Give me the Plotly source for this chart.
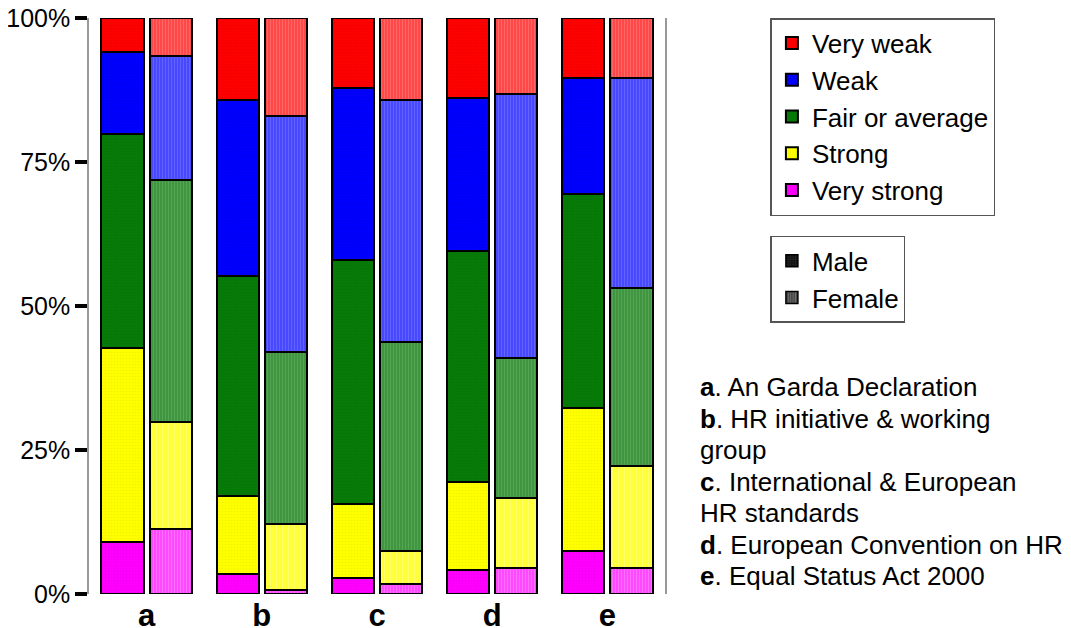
import plotly.graph_objects as go

# categories (a..e) and response levels
letters = ["a", "b", "c", "d", "e"]
levels = ["Very strong", "Strong", "Fair or average", "Weak", "Very weak"]

# percentages per level, one value per category (bottom level first)
male = {
    "Very strong":     [9.1, 3.5, 2.8, 4.2, 7.4],
    "Strong":          [33.6, 13.5, 12.9, 15.2, 24.9],
    "Fair or average": [37.1, 38.2, 42.3, 40.1, 37.1],
    "Weak":            [14.3, 30.6, 29.8, 26.6, 20.1],
    "Very weak":       [5.9, 14.2, 12.2, 13.9, 10.5],
}
female = {
    "Very strong":     [11.2, 0.7, 1.8, 4.5, 4.5],
    "Strong":          [18.7, 11.5, 5.6, 12.2, 17.8],
    "Fair or average": [42.0, 29.8, 36.35, 24.3, 30.9],
    "Weak":            [21.5, 41.0, 42.05, 45.8, 36.3],
    "Very weak":       [6.6, 17.0, 14.2, 13.2, 10.5],
}

y_ticks = [0, 25, 50, 75, 100]
y_tick_labels = ["0%", "25%", "50%", "75%", "100%"]

# key to the letters, one entry per printed line
note_lines = [
    "<b>a</b>. An Garda Declaration",
    "<b>b</b>. HR initiative & working",
    "group",
    "<b>c</b>. International & European",
    "HR standards",
    "<b>d</b>. European Convention on HR",
    "<b>e</b>. Equal Status Act 2000",
]

male_colors = {"Very strong": "#ff00ff", "Strong": "#ffff00", "Fair or average": "#067a06",
               "Weak": "#0000ff", "Very weak": "#ff0000"}
male_dots = {"Very strong": "#e000e0", "Strong": "#e8e800", "Fair or average": "#0a6a0a",
             "Weak": "#0000d8", "Very weak": "#dd0000"}
female_colors = {"Very strong": "#ff44ff", "Strong": "#ffff33", "Fair or average": "#3d943d",
                 "Weak": "#4444ff", "Very weak": "#ff4444"}
female_stripes = {"Very strong": "#ff99ff", "Strong": "#ffffa0", "Fair or average": "#6cb46c",
                  "Weak": "#8080ff", "Very weak": "#ff8a8a"}

FONT = "Liberation Sans, Arial, sans-serif"
shift = 0.209
bar_w = 0.366

fig = go.Figure()

for rank, lvl in enumerate(levels):
    fig.add_trace(go.Bar(
        x=[i - shift for i in range(len(letters))], y=male[lvl], width=bar_w,
        name=lvl, legend="legend", legendrank=100 - rank,
        marker=dict(color=male_colors[lvl], line=dict(color="black", width=2),
                    pattern=dict(shape=".", fgcolor=male_dots[lvl], size=3,
                                 solidity=0.25, fillmode="overlay")),
        hovertemplate=f"Male – {lvl}: %{{y:.1f}}%<extra></extra>",
    ))
    fig.add_trace(go.Bar(
        x=[i + shift for i in range(len(letters))], y=female[lvl], width=bar_w,
        name=lvl, showlegend=False,
        marker=dict(color=female_colors[lvl], line=dict(color="black", width=2),
                    pattern=dict(shape="|", fgcolor=female_stripes[lvl], size=3,
                                 solidity=0.4, fillmode="overlay")),
        hovertemplate=f"Female – {lvl}: %{{y:.1f}}%<extra></extra>",
    ))

# gender key (legend-only entries, no drawn bars)
fig.add_trace(go.Bar(x=[None], y=[None], name="Male", legend="legend2", legendrank=1,
                     hoverinfo="skip",
                     marker=dict(color="#111111", line=dict(color="black", width=1.5),
                                 pattern=dict(shape=".", fgcolor="#444444", size=3,
                                              solidity=0.3, fillmode="overlay"))))
fig.add_trace(go.Bar(x=[None], y=[None], name="Female", legend="legend2", legendrank=2,
                     hoverinfo="skip",
                     marker=dict(color="#444444", line=dict(color="black", width=1.5),
                                 pattern=dict(shape="|", fgcolor="#999999", size=3,
                                              solidity=0.4, fillmode="overlay"))))

# plot area is 576 px tall; the key lines are ~31.5 px apart
line_step = 31.5 / 576
for k, line in enumerate(note_lines):
    fig.add_annotation(text=line, xref="paper", yref="paper", x=1.058, y=0.359 - k * line_step,
                       xanchor="left", yanchor="middle", align="left", showarrow=False,
                       font=dict(family=FONT, size=26, color="black"))

legend_style = dict(font=dict(family=FONT, size=26, color="black"), bgcolor="white",
                    bordercolor="#555555", borderwidth=1.5, xanchor="left", yanchor="top",
                    traceorder="normal")

fig.update_layout(
    width=1071, height=628,
    margin=dict(l=81, r=414, t=10, b=42, autoexpand=False),
    barmode="stack",
    plot_bgcolor="white", paper_bgcolor="white",
    font=dict(family=FONT, size=25, color="black"),
    legend=dict(x=1.183, y=1.0, **legend_style),
    legend2=dict(x=1.183, y=0.622, **legend_style),
    showlegend=True,
)

fig.update_xaxes(range=[-0.5, len(letters) - 0.5], tickvals=list(range(len(letters))),
                 ticktext=letters, tickfont=dict(family=FONT, size=31, color="black", weight="bold"),
                 showline=False, showgrid=False, zeroline=False, ticks="", automargin=False,
                 ticklabeloverflow="allow")
fig.update_yaxes(range=[0, 100], tickvals=y_ticks, ticktext=y_tick_labels,
                 tickfont=dict(family=FONT, size=25, color="black"),
                 ticks="outside", ticklen=12, tickwidth=4, tickcolor="black",
                 showline=True, linecolor="#999999", linewidth=1.5, mirror=True,
                 showgrid=False, zeroline=False, automargin=False,
                 ticklabeloverflow="allow")

fig.write_html("out.html")
